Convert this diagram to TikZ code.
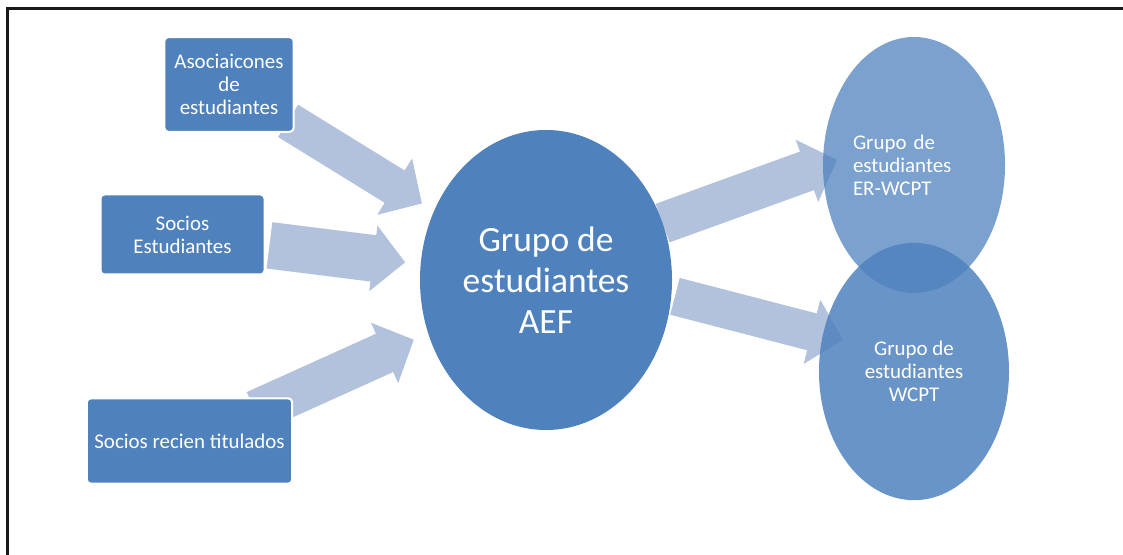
\documentclass[tikz,border=0pt]{standalone}
\usepackage{fontspec}
\setmainfont{Carlito}
\usepackage{tikz}
\usetikzlibrary{arrows.meta,shapes.geometric,backgrounds}
\definecolor{boxblue}{HTML}{4F81BD}
\definecolor{flowblue}{HTML}{B2C1DC}
\tikzset{
  box/.style={draw=white, line width=1.5pt, fill=boxblue, rounded corners=3pt,
    text=white, align=center, inner sep=0pt, outer sep=0pt,
    font=\fontsize{15.7}{17.3}\selectfont},
  blob/.style={ellipse, fill=boxblue, text=white, inner sep=0pt, outer sep=0pt,
    font=\fontsize{15.7}{17.3}\selectfont},
  flow/.style={draw=flowblue, line width=#1,
    -{Triangle[length=24pt, width=49.5pt, line width=0.8pt]}}
}

\begin{document}
\begin{tikzpicture}[x=0.75pt, y=-0.75pt]
  \useasboundingbox (0, 0) rectangle (1123, 555);
  \draw [line width=2.2pt, black!90] (7.5, 555) -- (7.5, 8.5) -- (1123, 8.5);
  \node [box, minimum width=97pt, minimum height=71pt] (LT) at (229, 84.5) {Asociaicones\\de\\estudiantes};
  \node [box, minimum width=123pt, minimum height=60pt] (LM) at (182.5, 234.5) {Socios\\Estudiantes};
  \node [box, minimum width=154pt, minimum height=64pt] (LB) at (189.5, 441) {Socios recien titulados};
  \node [blob, minimum width=189pt, minimum height=225pt,
    font=\fontsize{26.6}{30.75}\selectfont, align=center] (M) at (546, 280) {Grupo de\\estudiantes\\AEF};
  \node [blob, fill opacity=0.75, text opacity=1, minimum width=136.5pt, minimum height=192pt,
    align=left, text width=91.5pt] (RT) at (914, 165) {Grupo de\\estudiantes\\ER-WCPT};
  \node [blob, fill opacity=0.85, text opacity=1, minimum width=142.5pt, minimum height=193pt,
    align=center] (RB) at (914, 371.5) {Grupo de\\estudiantes\\WCPT};
  \begin{scope}[on background layer]
    \draw [flow=28.5pt, shorten <=-4.9pt, shorten >=10.8pt] (LT) -- (M);
    \draw [flow=35pt, shorten <=3.75pt, shorten >=11.8pt] (LM) -- (M);
    \draw [flow=31.5pt, shorten <=-23.5pt, shorten >=11.9pt] (LB) -- (M);
    \draw [flow=30.75pt, shorten >=-11.2pt] (M.26) -- (RT.west);
    \draw [flow=28.5pt, shorten <=2.8pt, shorten >=-15.5pt] (M.-7) -- (RB.158);
  \end{scope}
\end{tikzpicture}
\end{document}
